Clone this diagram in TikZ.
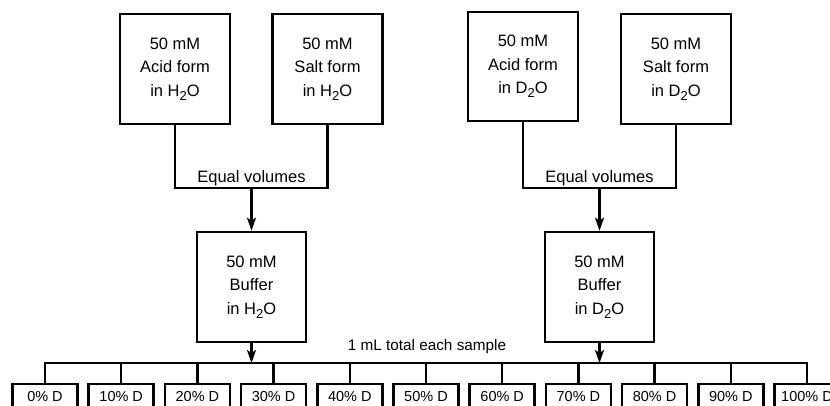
\documentclass[tikz,border=0pt]{standalone}
\usepackage{fontspec}
\setmainfont{Liberation Sans}
\usetikzlibrary{arrows.meta}
\newcommand{\chemsub}[1]{\raisebox{-0.45ex}{\fontsize{13}{13}\selectfont #1}}
\tikzset{
	stock/.style={draw,line width=2.6pt,minimum width=110pt,minimum height=110pt,align=center,inner sep=0pt,font=\fontsize{16.5}{23.5}\selectfont},
	sample/.style={draw,line width=2.6pt,minimum width=65pt,minimum height=26pt,inner sep=0pt,font=\fontsize{14.5}{16}\selectfont},
	pipe/.style={line width=2.4pt},
	flow/.style={line width=2.4pt,-{Stealth[length=13pt,width=9pt,inset=3pt]}}
}
\begin{document}
\begin{tikzpicture}[x=1pt,y=-1pt]
			\useasboundingbox (0,0) rectangle (830,406);
			\clip (0,0) rectangle (830,406);
			% stock solutions
			\node[stock] (acidH) at (175,69){50 mM\\Acid form\\in H\chemsub{2}O};
			\node[stock] (saltH) at (327.5,69){50 mM\\Salt form\\in H\chemsub{2}O};
			\node[stock,minimum height=109pt] (acidD) at (523,66.5){50 mM\\Acid form\\in D\chemsub{2}O};
			\node[stock] (saltD) at (676,69){50 mM\\Salt form\\in D\chemsub{2}O};
			% buffers
			\node[stock,minimum width=109pt] (bufH) at (251.5,287){50 mM\\Buffer\\in H\chemsub{2}O};
			\node[stock,minimum width=109pt] (bufD) at (599.5,287){50 mM\\Buffer\\in D\chemsub{2}O};
			\coordinate (mixH) at (251.5,188);
			\coordinate (mixD) at (599.5,188);
			\draw[pipe] (acidH.south) |- (mixH) -| (saltH.south);
			\draw[pipe] (acidD.south) |- (mixD) -| (saltD.south);
			\node[font=\fontsize{16.5}{18}\selectfont,anchor=south] (eqH) at ([yshift=-1pt]mixH){Equal volumes};
			\node[font=\fontsize{16.5}{18}\selectfont,anchor=south] (eqD) at ([yshift=-1pt]mixD){Equal volumes};
			\draw[flow] (mixH) -- (bufH.north);
			\draw[flow] (mixD) -- (bufD.north);
			% samples
			\foreach \p [count=\i from 0] in {0,10,...,100}{
				\node[sample] (s\i) at (45+76.2*\i,397){\p\% D};
			}
			\coordinate (distH) at (251.5,363);
			\coordinate (distD) at (599.5,363);
			\draw[pipe] (s0.north) |- (distH) -- (distD) -| (s10.north);
			\foreach \i in {1,...,9}{
				\draw[pipe] (s\i.north) -- (s\i.north |- distH);
			}
			\draw[flow] (bufH.south) -- (distH);
			\draw[flow] (bufD.south) -- (distD);
			\node[font=\fontsize{15.3}{17}\selectfont,anchor=south] (total) at (427,357){1 mL total each sample};
		\end{tikzpicture}
\end{document}
